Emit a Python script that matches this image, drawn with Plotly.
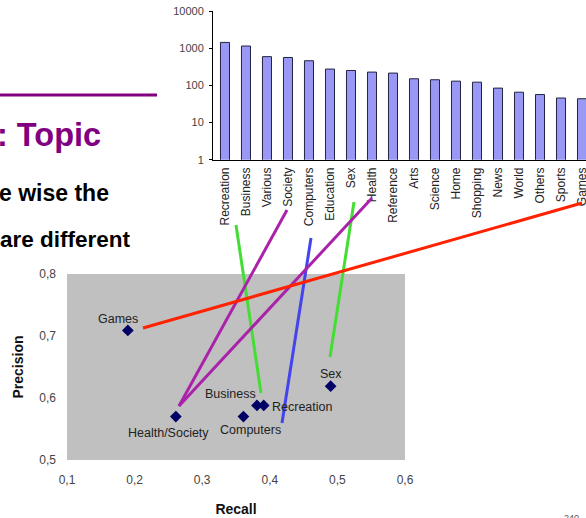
import plotly.graph_objects as go

W, H = 586, 518

# ---- data ----
categories = ["Recreation", "Business", "Various", "Society", "Computers", "Education",
              "Sex", "Health", "Reference", "Arts", "Science", "Home", "Shopping",
              "News", "World", "Others", "Sports", "Games"]
counts = [1450, 1160, 600, 570, 465, 277, 254, 230, 216, 152, 143, 131, 123,
          85, 66, 57, 46, 44]
bar_ytickvals = [1, 10, 100, 1000, 10000]
bar_yticktext = ["1", "10", "100", "1000", "10000"]

topics = ["Games", "Health/Society", "Computers", "Business", "Recreation", "Sex"]
recall = [0.19, 0.261, 0.361, 0.381, 0.391, 0.490]
precision = [0.709, 0.570, 0.570, 0.588, 0.588, 0.619]
sc_xtickvals = [0.1, 0.2, 0.3, 0.4, 0.5, 0.6]
sc_xticktext = ["0,1", "0,2", "0,3", "0,4", "0,5", "0,6"]
sc_ytickvals = [0.5, 0.6, 0.7, 0.8]
sc_yticktext = ["0,5", "0,6", "0,7", "0,8"]


def px(x):
    return x / W


def py(y):
    return 1 - y / H


fig = go.Figure()

fig.add_trace(go.Bar(
    x=categories, y=counts, width=0.43,
    marker=dict(color="#9999f5", line=dict(color="#222244", width=1)),
    xaxis="x", yaxis="y", showlegend=False, hoverinfo="skip",
))

fig.add_trace(go.Scatter(
    x=recall, y=precision, mode="markers",
    marker=dict(symbol="diamond", size=9, color="#000066"),
    xaxis="x2", yaxis="y2", showlegend=False, hoverinfo="skip",
))

layout = dict(
    width=W, height=H,
    margin=dict(l=0, r=0, t=0, b=0, pad=0),
    paper_bgcolor="white", plot_bgcolor="rgba(0,0,0,0)",
    font=dict(family="Arial, Liberation Sans, sans-serif", color="#222"),
    xaxis=dict(
        domain=[px(213), 1.0], anchor="y", type="category", automargin=False,
        range=[-0.57, 17.19], showline=True, linecolor="#000", linewidth=1,
        ticks="", tickangle=-90, tickfont=dict(size=12, color="#222"),
        ticklabelstandoff=2, showgrid=False, zeroline=False,
    ),
    yaxis=dict(
        domain=[py(159.7), py(11.3)], anchor="x", type="log", automargin=False,
        range=[0, 4], showline=True, linecolor="#000", linewidth=1,
        ticks="outside", ticklen=3, tickcolor="#000", ticklabelstandoff=3,
        tickvals=bar_ytickvals, ticktext=bar_yticktext,
        tickfont=dict(size=11, color="#444"), showgrid=False, zeroline=False,
    ),
    xaxis2=dict(
        domain=[px(67), px(405)], anchor="y2", range=[0.1, 0.6], automargin=False,
        tickvals=sc_xtickvals, ticktext=sc_xticktext, ticks="",
        ticklabelstandoff=11,
        showline=False, showgrid=False, zeroline=False,
        tickfont=dict(size=12, color="#444"),
        title=dict(text="<b>Recall</b>", font=dict(size=14, color="#111"), standoff=18),
    ),
    yaxis2=dict(
        domain=[py(460), py(274)], anchor="x2", range=[0.5, 0.8], automargin=False,
        tickvals=sc_ytickvals, ticktext=sc_yticktext, ticks="",
        ticklabelstandoff=10,
        showline=False, showgrid=False, zeroline=False,
        tickfont=dict(size=12, color="#444"),
        title=dict(text="<b>Precision</b>", font=dict(size=14, color="#111"), standoff=12),
    ),
)
fig.update_layout(**layout)

# grey plot area of scatter
fig.add_shape(type="rect", xref="x2 domain", yref="y2 domain", x0=0, x1=1, y0=0, y1=1,
              fillcolor="#c0c0c0", line=dict(width=0), layer="below")

# point labels
label_offsets = {
    "Games": (-10, 11, "center"),
    "Health/Society": (-7, -16, "center"),
    "Computers": (7, -13, "center"),
    "Business": (-26, 11, "center"),
    "Recreation": (6, -2, "left"),
    "Sex": (0, 12, "center"),
}
for t, r, p in zip(topics, recall, precision):
    dx, dy, anc = label_offsets[t]
    fig.add_annotation(x=r, y=p, xref="x2", yref="y2", text=t, showarrow=False,
                       xshift=dx, yshift=dy, xanchor=anc,
                       font=dict(size=12.5, color="#222"))

# connector lines (category label -> scatter point)
connectors = [
    ((236, 225), (261, 393), "#44dd33"),
    ((287, 210), (179, 406), "#aa22aa"),
    ((311, 238), (282, 423), "#4444ee"),
    ((354, 202), (330, 357), "#44dd33"),
    ((372, 198), (179, 406), "#aa22aa"),
    ((582, 203), (143, 328), "#ff2200"),
]
for (x0, y0), (x1, y1), c in connectors:
    fig.add_shape(type="line", xref="paper", yref="paper",
                  x0=px(x0), y0=py(y0), x1=px(x1), y1=py(y1),
                  line=dict(color=c, width=3), layer="above")

# slide fragments
fig.add_shape(type="line", xref="paper", yref="paper", x0=0, x1=px(157),
              y0=py(95), y1=py(95), line=dict(color="#800080", width=3))
fig.add_annotation(xref="paper", yref="paper", x=px(-5), y=py(135), xanchor="left",
                   yanchor="middle", text="<b>: Topic</b>", showarrow=False,
                   font=dict(size=32.5, color="#800080"))
fig.add_annotation(xref="paper", yref="paper", x=px(-3), y=py(193), xanchor="left",
                   yanchor="middle", text="<b>e wise the</b>", showarrow=False,
                   font=dict(size=23, color="#000"))
fig.add_annotation(xref="paper", yref="paper", x=px(-2), y=py(239), xanchor="left",
                   yanchor="middle", text="<b>are different</b>", showarrow=False,
                   font=dict(size=22.5, color="#000"))
fig.add_annotation(xref="paper", yref="paper", x=px(562), y=py(511), xanchor="left",
                   yanchor="top", text="240", showarrow=False,
                   font=dict(size=9, color="#555"))

fig.write_html("out.html", config={"displayModeBar": False},
               post_script="document.body.style.margin='0px';")
